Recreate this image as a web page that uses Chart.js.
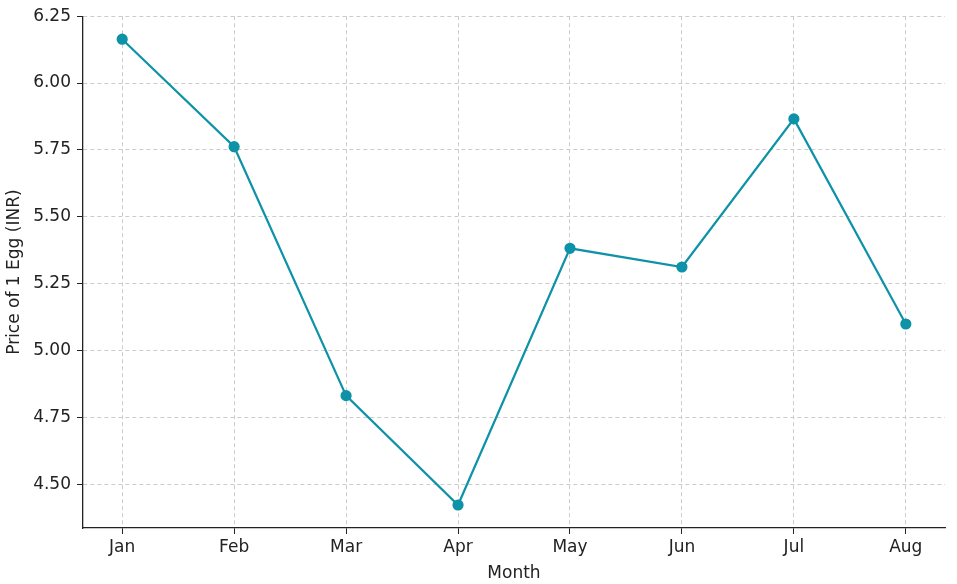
<!DOCTYPE html>
<html>
<head>
<meta charset="utf-8">
<script src="https://cdn.jsdelivr.net/npm/chart.js@4"></script>
<style>
  body { margin: 0; background: #fff; }
  #wrap { width: 957px; height: 584px; }
</style>
</head>
<body>
<div id="wrap"><canvas id="c"></canvas></div>
<script>
// data
const months = ["Jan", "Feb", "Mar", "Apr", "May", "Jun", "Jul", "Aug"];
const eggPrice = [6.164, 5.762, 4.831, 4.422, 5.382, 5.312, 5.866, 5.099];
const yTicks = [4.5, 4.75, 5.0, 5.25, 5.5, 5.75, 6.0, 6.25];

const points = eggPrice.map((v, i) => ({ x: i, y: v }));
const font = { family: "'DejaVu Sans', sans-serif", size: 17 };

new Chart(document.getElementById("c"), {
  type: "line",
  data: {
    datasets: [{
      data: points,
      borderColor: "#0e92a8",
      backgroundColor: "#0e92a8",
      borderWidth: 2.2,
      pointRadius: 4.5,
      tension: 0,
    }],
  },
  options: {
    responsive: true,
    maintainAspectRatio: false,
    animation: false,
    layout: { padding: { top: 14, right: 12, bottom: 0, left: 0 } },
    plugins: { legend: { display: false }, tooltip: { enabled: false } },
    scales: {
      x: {
        type: "linear",
        min: -0.35,
        max: 7.35,
        afterBuildTicks: (axis) => { axis.ticks = months.map((m, i) => ({ value: i })); },
        afterFit: (axis) => { axis.height = 56; },
        ticks: { color: "#222", font, padding: 3, callback: (v) => months[v] },
        grid: { color: "#cccccc", tickLength: 6, tickColor: "#222" },
        border: { color: "#222", width: 1.3, dash: [4, 3] },
        title: { display: true, text: "Month", color: "#222", font, padding: { top: 0, bottom: 0 } },
      },
      y: {
        min: 4.336,
        max: 6.25,
        afterBuildTicks: (axis) => { axis.ticks = yTicks.map((v) => ({ value: v })); },
        afterFit: (axis) => { axis.width = 83; },
        ticks: { color: "#222", font, padding: 6, callback: (v) => v.toFixed(2) },
        grid: { color: "#cccccc", tickLength: 6, tickColor: "#222" },
        border: { color: "#222", width: 1.3, dash: [4, 3] },
        title: { display: true, text: "Price of 1 Egg (INR)", color: "#222", font, padding: { bottom: 2 } },
      },
    },
  },
});
</script>
</body>
</html>
